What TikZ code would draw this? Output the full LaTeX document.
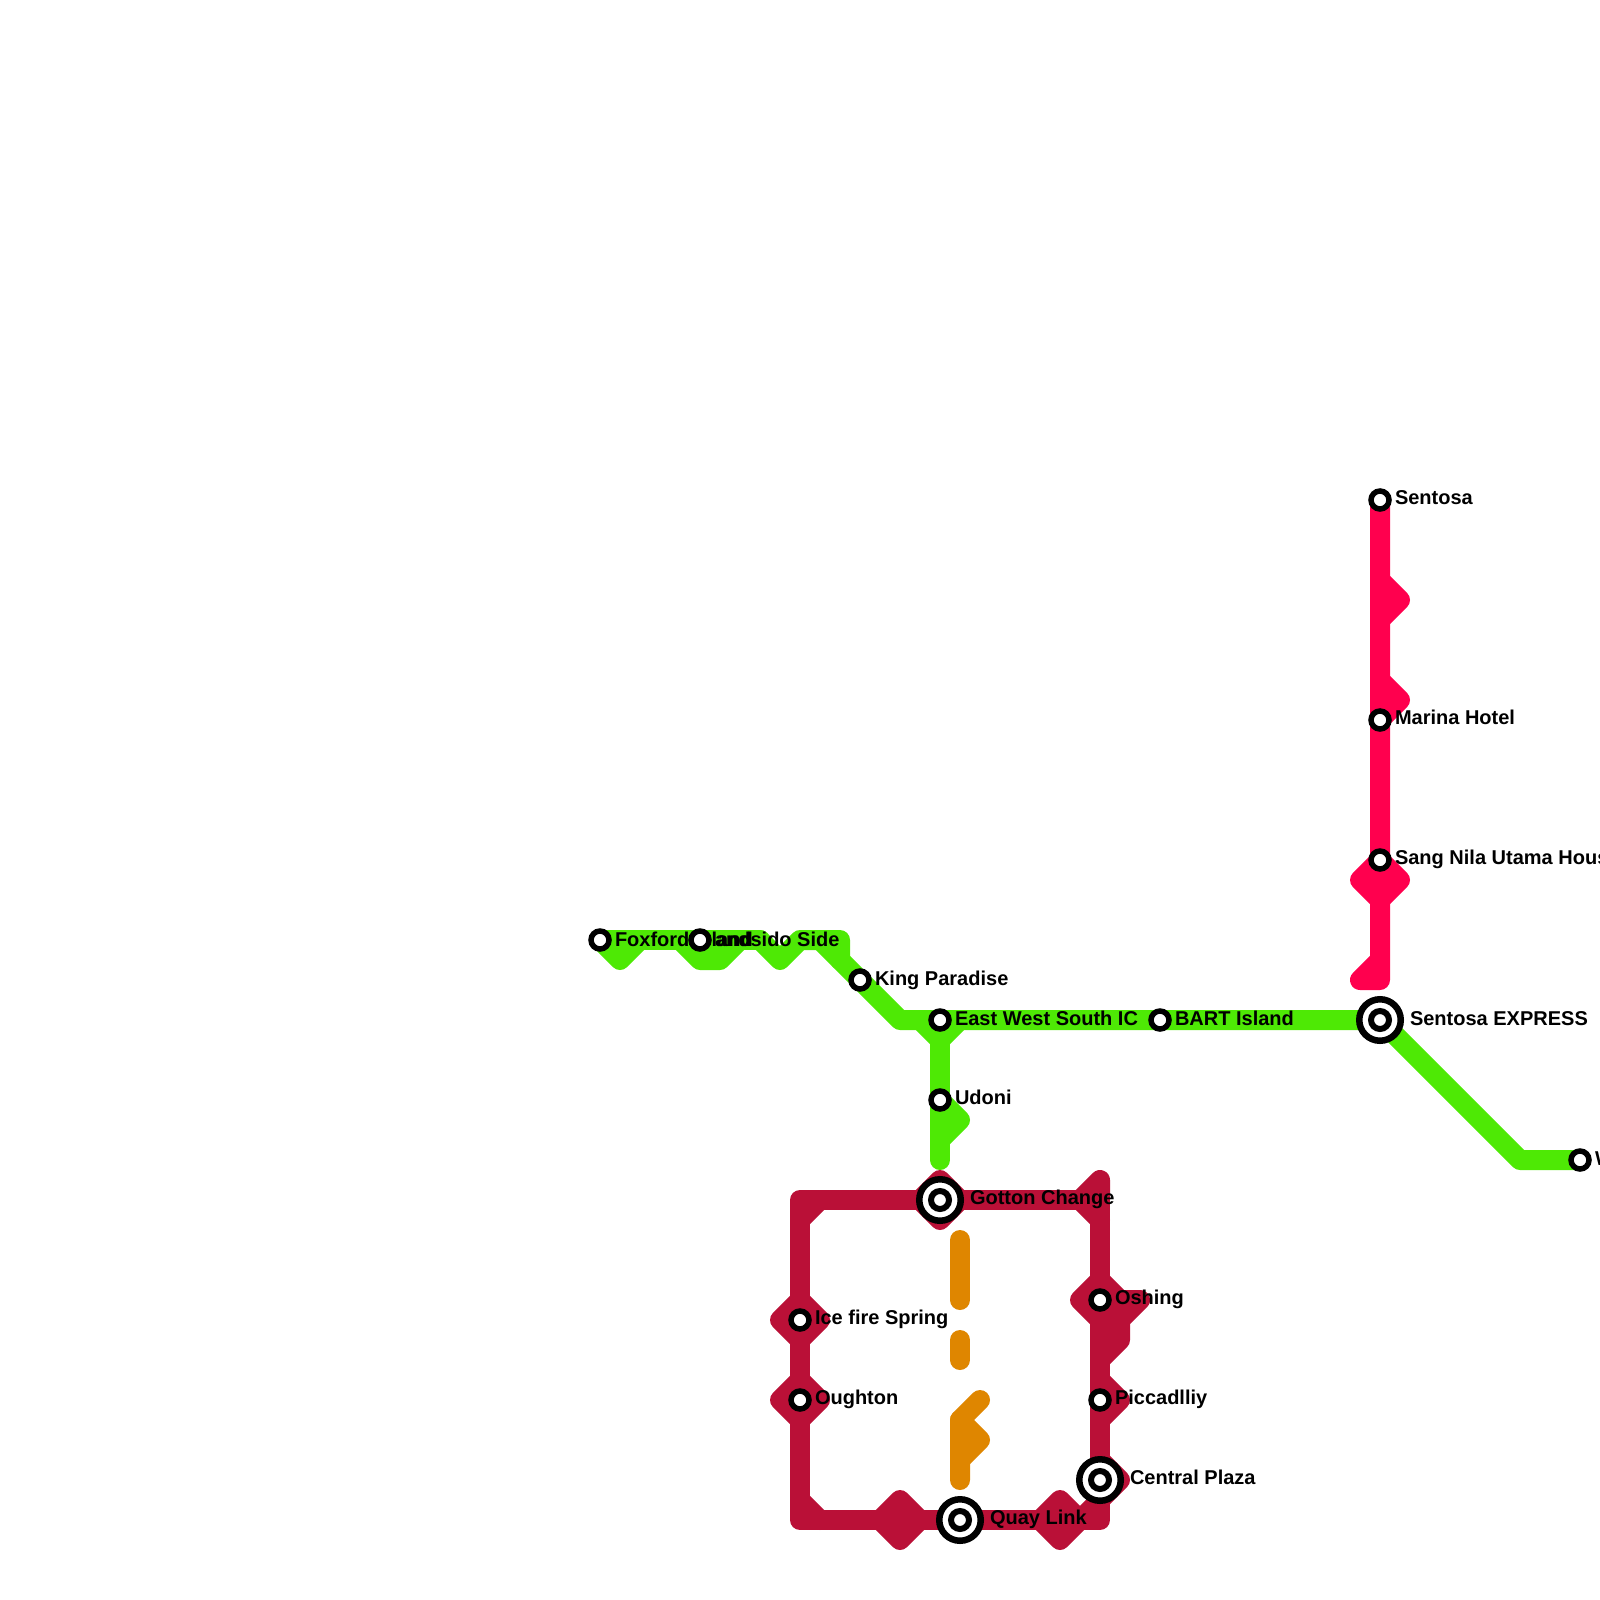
\documentclass[tikz,border=0pt]{standalone}
\usepackage{fontspec}
\setmainfont{Liberation Sans}
\usepackage{tikz}
\usetikzlibrary{positioning}
\definecolor{greenline}{HTML}{4EE905}
\definecolor{maroonline}{HTML}{BA1037}
\definecolor{orangeline}{HTML}{DF8600}
\definecolor{pinkline}{HTML}{FF004E}

\begin{document}
\begin{tikzpicture}[
    x=1pt, y=-1pt,
    every node/.style={inner sep=0pt, outer sep=0pt},
    line/.style={line width=20pt, line cap=round, line join=round},
    greenrun/.style={line, greenline},
    maroonrun/.style={line, maroonline},
    orangerun/.style={line, orangeline},
    pinkrun/.style={line, pinkline},
    halt/.style={circle, draw=black, fill=white, line width=5.5pt, minimum size=18pt},
    hub/.style={circle, draw=black, fill=white, line width=6.5pt, minimum size=41.5pt},
    hubcore/.style={circle, draw=black, fill=white, line width=6pt, minimum size=18pt},
    lab/.style={anchor=base west, font=\fontsize{20}{22}\selectfont\bfseries}
  ]
  \useasboundingbox (0,0) rectangle (1600,1600);

  % --- stations first, lines are drawn behind them ---
  \coordinate (foxford) at (600,940);
  \coordinate (iandsido) at (700,940);
  \coordinate (king) at (860,980);
  \coordinate (eastwest) at (940,1020);
  \coordinate (udoni) at (940,1100);
  \coordinate (bart) at (1160,1020);
  \coordinate (express) at (1380,1020);
  \coordinate (west) at (1580,1160);
  \coordinate (gotton) at (940,1200);
  \coordinate (ice) at (800,1320);
  \coordinate (oughton) at (800,1400);
  \coordinate (oshing) at (1100,1300);
  \coordinate (piccadilly) at (1100,1400);
  \coordinate (central) at (1100,1480);
  \coordinate (quay) at (960,1520);
  \coordinate (sentosa) at (1380,500);
  \coordinate (marina) at (1380,720);
  \coordinate (sang) at (1380,860);

  % --- orange ---
  \draw[orangerun] (960,1240) -- (960,1300);
  \draw[orangerun] (960,1340) -- (960,1360);
  \draw[orangerun] (980,1400) -- (960,1420) -- (960,1480);
  \draw[orangerun] (960,1420) -- (980,1440) -- (960,1460);

  % --- maroon ---
  \draw[maroonrun] (800,1200) rectangle (1100,1520);
  \draw[maroonrun] (800,1220) -- (820,1200);
  \draw[maroonrun] (800,1500) -- (820,1520);
  \draw[maroonrun] (1080,1200) -- (1100,1220);
  \draw[maroonrun] (1080,1200) -- (1100,1180) -- (1100,1200);
  \draw[maroonrun] (1080,1520) -- (1100,1500);
  \foreach \cx/\cy in {940/1200, 800/1320, 800/1400, 900/1520, 1060/1520, 1100/1300}
    {\draw[maroonrun, fill=maroonline] (\cx-20,\cy) -- (\cx,\cy-20) -- (\cx+20,\cy) -- (\cx,\cy+20) -- cycle;}
  \draw[maroonrun, fill=maroonline] (1100,1300) -- (1140,1300) -- (1120,1320) -- (1120,1340) -- (1100,1360) -- cycle;
  \draw[maroonrun] (1100,1380) -- (1120,1400) -- (1100,1420);
  \draw[maroonrun] (1100,1460) -- (1120,1480) -- (1100,1500);

  % --- green ---
  \draw[greenrun] (foxford) -- (760,940);
  \draw[greenrun] (foxford) -- (620,960) -- (640,940);
  \draw[greenrun] (680,940) -- (700,960) -- (720,960) -- (740,940);
  \draw[greenrun] (760,940) -- (780,960) -- (800,940) -- (840,940) -- (840,960);
  \draw[greenrun] (820,940) -- (king) -- (900,1020) -- (express) -- (1520,1160) -- (west);
  \draw[greenrun] (920,1020) -- (940,1040) -- (960,1020);
  \draw[greenrun] (eastwest) -- (940,1160);
  \draw[greenrun] (udoni) -- (960,1120) -- (940,1140);

  % --- pink ---
  \draw[pinkrun] (sentosa) -- (1380,980) -- (1360,980) -- (1380,960);
  \draw[pinkrun] (1380,580) -- (1400,600) -- (1380,620);
  \draw[pinkrun] (1380,680) -- (1400,700) -- (1380,720);
  \draw[pinkrun, fill=pinkline] (1360,880) -- (1380,860) -- (1400,880) -- (1380,900) -- cycle;

  % --- labels ---
  \node[lab] (foxfordlab) at (615,946) {Foxford Island};
  \node[lab] (iandsidolab) at (715,946) {andsido Side};
  \node[lab] (kinglab) at (875,985) {King Paradise};
  \node[lab] (eastwestlab) at (955,1025) {East West South IC};
  \node[lab] (udonilab) at (955,1104) {Udoni};
  \node[lab] (bartlab) at (1175,1025) {BART Island};
  \node[lab] (expresslab) at (1410,1025) {Sentosa EXPRESS};
  \node[lab] (westlab) at (1595,1165) {West};
  \node[lab] (gottonlab) at (970,1204) {Gotton Change};
  \node[lab] (icelab) at (815,1324) {Ice fire Spring};
  \node[lab] (oughtonlab) at (815,1404) {Oughton};
  \node[lab] (oshinglab) at (1115,1304) {Oshing};
  \node[lab] (piccadillylab) at (1115,1404) {Piccadlliy};
  \node[lab] (centrallab) at (1130,1484) {Central Plaza};
  \node[lab] (quaylab) at (990,1524) {Quay Link};
  \node[lab] (sentosalab) at (1395,504) {Sentosa};
  \node[lab] (marinalab) at (1395,724) {Marina Hotel};
  \node[lab] (sanglab) at (1395,864) {Sang Nila Utama House};

  % --- station markers ---
  \foreach \s in {foxford,iandsido,king,eastwest,udoni,bart,west,ice,oughton,oshing,piccadilly,sentosa,marina,sang}
    {\node[halt] at (\s) {};}
  \foreach \s in {express,gotton,central,quay}
    {\node[hub] at (\s) {}; \node[hubcore] at (\s) {};}
\end{tikzpicture}
\end{document}
